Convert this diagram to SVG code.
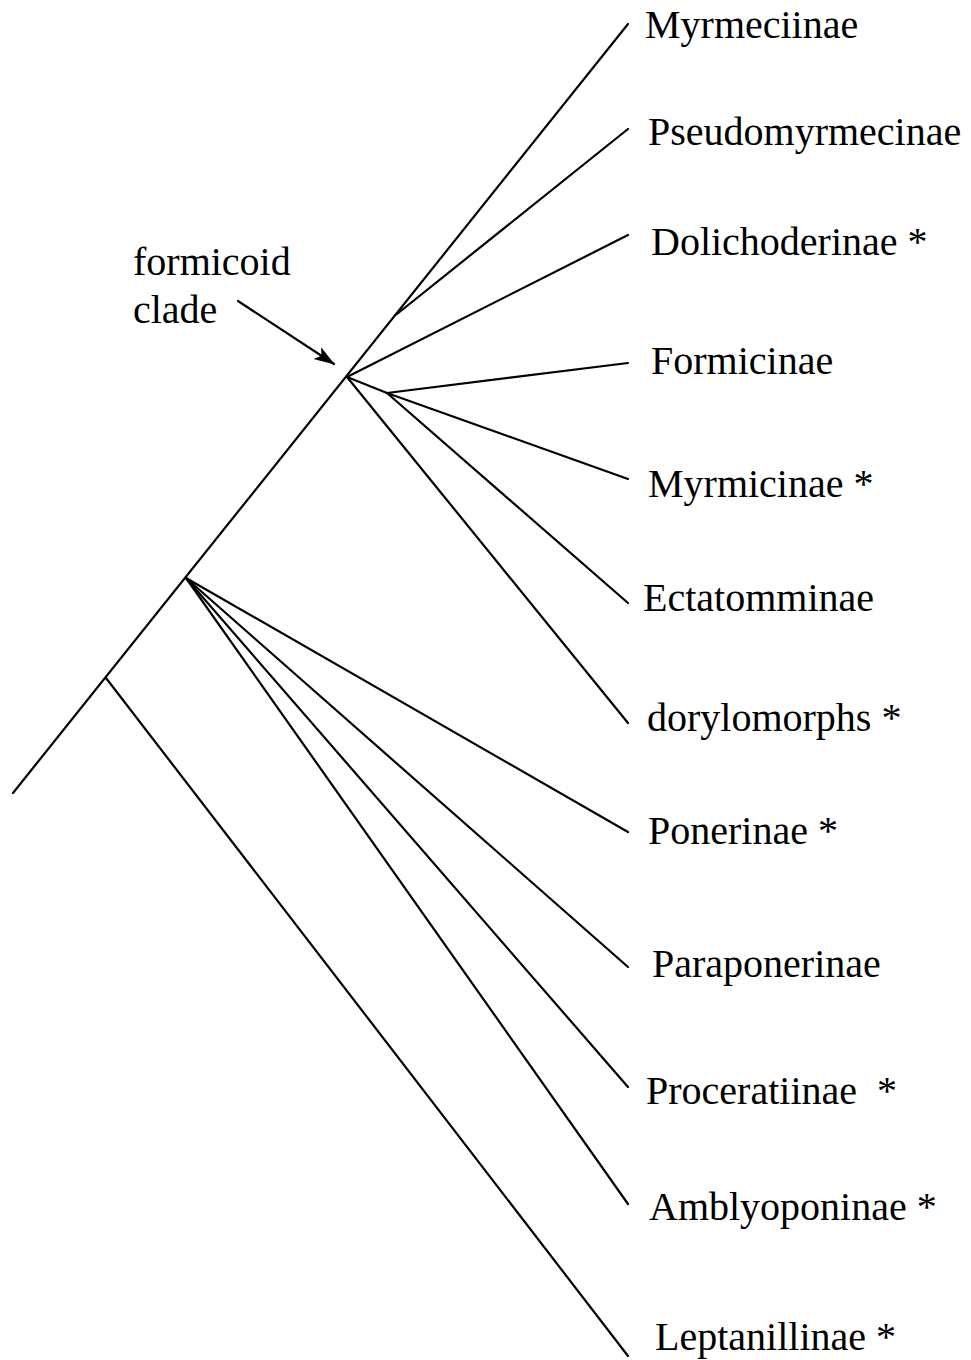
<svg xmlns="http://www.w3.org/2000/svg" width="971" height="1360" viewBox="0 0 971 1360">
  <style>
    .e { stroke: #000; stroke-width: 2.2; fill: none; stroke-linecap: round; }
    .t { font-family: "Liberation Serif", "Times New Roman", serif; font-size: 40px; fill: #000; }
  </style>
  <defs>
    <marker id="ah" markerWidth="22" markerHeight="16" refX="20" refY="8" orient="auto" markerUnits="userSpaceOnUse">
      <path d="M0,1 L21,8 L0,15 L5,8 Z" fill="#000"/>
    </marker>
  </defs>
  <rect width="971" height="1360" fill="#fff"/>
  <g id="connectors">
    <line class="e" x1="13" y1="793" x2="628" y2="24"/>
    <line class="e" x1="397" y1="314" x2="628" y2="129"/>
    <line class="e" x1="347" y1="377" x2="628" y2="235"/>
    <line class="e" x1="347" y1="377" x2="387" y2="393"/>
    <line class="e" x1="387" y1="393" x2="628" y2="363"/>
    <line class="e" x1="387" y1="393" x2="628" y2="479"/>
    <line class="e" x1="387" y1="393" x2="628" y2="603"/>
    <line class="e" x1="347" y1="377" x2="628" y2="723"/>
    <line class="e" x1="186" y1="578" x2="628" y2="832"/>
    <line class="e" x1="186" y1="578" x2="628" y2="967"/>
    <line class="e" x1="186" y1="578" x2="628" y2="1087"/>
    <line class="e" x1="186" y1="578" x2="628" y2="1204"/>
    <line class="e" x1="106" y1="678" x2="628" y2="1356"/>
    <line class="e" x1="238" y1="301" x2="334" y2="364" marker-end="url(#ah)"/>
  </g>
  <g id="n-myrmeciinae"><text class="t" x="645" y="38">Myrmeciinae</text></g>
  <g id="n-pseudomyrmecinae"><text class="t" x="648" y="145">Pseudomyrmecinae</text></g>
  <g id="n-dolichoderinae"><text class="t" x="651" y="255">Dolichoderinae *</text></g>
  <g id="n-formicinae"><text class="t" x="651" y="374">Formicinae</text></g>
  <g id="n-myrmicinae"><text class="t" x="648" y="497">Myrmicinae *</text></g>
  <g id="n-ectatomminae"><text class="t" x="643" y="611">Ectatomminae</text></g>
  <g id="n-dorylomorphs"><text class="t" x="647" y="731">dorylomorphs *</text></g>
  <g id="n-ponerinae"><text class="t" x="648" y="844">Ponerinae *</text></g>
  <g id="n-paraponerinae"><text class="t" x="652" y="977">Paraponerinae</text></g>
  <g id="n-proceratiinae"><text class="t" x="646" y="1104">Proceratiinae<tspan x="877">*</tspan></text></g>
  <g id="n-amblyoponinae"><text class="t" x="649" y="1220">Amblyoponinae *</text></g>
  <g id="n-leptanillinae"><text class="t" x="655" y="1350">Leptanillinae *</text></g>
  <g id="n-formicoid"><text class="t" x="133" y="275">formicoid</text><text class="t" x="133" y="323">clade</text></g>
</svg>
